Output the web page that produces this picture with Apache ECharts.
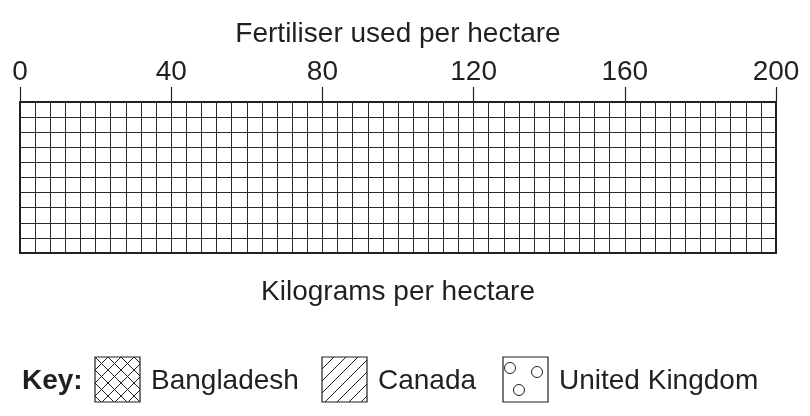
<!DOCTYPE html>
<html>
<head>
<meta charset="utf-8">
<script src="https://cdn.jsdelivr.net/npm/echarts@6/dist/echarts.min.js"></script>
<style>
  html, body { margin: 0; padding: 0; background: #fff; }
  #chart { width: 810px; height: 416px; }
</style>
</head>
<body>
<div id="chart"></div>
<script>
// axis values
var xMin = 0;
var xMax = 200;
var xMajorTicks = [0, 40, 80, 120, 160, 200];
var xMinorStep = 4;
var yRows = 10;
// key
var keyNames = ['Bangladesh', 'Canada', 'United Kingdom'];
var keyHatch = ['cross', 'diagonal', 'circles'];

var FONT = '"Liberation Sans", Arial, sans-serif';
var INK = '#231f20';

// small canvas tiles used as fills for the key boxes
function makeTile(kind){
	var size = kind === 'cross' ? 13 : 12;
	var c = document.createElement('canvas');
	c.width = size; c.height = size;
	var ctx = c.getContext('2d');
	ctx.strokeStyle = INK;
	ctx.lineWidth = 1;
	ctx.beginPath();
	if(kind === 'cross' || kind === 'diagonal'){
		ctx.moveTo(-1, size + 1); ctx.lineTo(size + 1, -1);
		ctx.moveTo(-1, 1); ctx.lineTo(1, -1);
		ctx.moveTo(size - 1, size + 1); ctx.lineTo(size + 1, size - 1);
	}
	if(kind === 'cross'){
		ctx.moveTo(-1, -1); ctx.lineTo(size + 1, size + 1);
		ctx.moveTo(size - 1, -1); ctx.lineTo(size + 1, 1);
		ctx.moveTo(-1, size - 1); ctx.lineTo(1, size + 1);
	}
	ctx.stroke();
	return c;
}

function buildKey(){
	var els = [];
	var rowY = 357, box = 45;
	var boxX = [95, 322, 503];
	var textTop = rowY + box / 2 - 12;
	els.push({
		type: 'text', left: 22, top: textTop,
		style: { text: 'Key:', font: 'bold 28px ' + FONT, fill: INK }
	});
	for(var i = 0; i < keyNames.length; i++){
		var fill = '#fff';
		if(keyHatch[i] !== 'circles'){
			fill = { image: makeTile(keyHatch[i]), repeat: 'repeat' };
		}
		els.push({
			type: 'rect', x: boxX[i], y: rowY,
			shape: { x: 0, y: 0, width: box, height: box },
			style: { fill: fill, stroke: INK, lineWidth: 1.2 }
		});
		if(keyHatch[i] === 'circles'){
			var dots = [[7, 11], [34, 15], [16, 33]];
			for(var j = 0; j < dots.length; j++){
				els.push({
					type: 'circle',
					shape: { cx: boxX[i] + dots[j][0], cy: rowY + dots[j][1], r: 5.5 },
					style: { fill: '#fff', stroke: INK, lineWidth: 1 }
				});
			}
		}
		els.push({
			type: 'text', left: boxX[i] + box + 11, top: textTop,
			style: { text: keyNames[i], font: '28px ' + FONT, fill: INK }
		});
	}
	return els;
}

var chart = echarts.init(document.getElementById('chart'));
var option = {
	animation: false,
	backgroundColor: '#fff',
	textStyle: { fontFamily: FONT, color: INK },
	grid: {
		left: 20, right: 34, top: 102, height: 151,
		containLabel: false, outerBoundsMode: 'none',
		show: true, borderColor: INK, borderWidth: 2, backgroundColor: 'transparent', z: 5
	},
	xAxis: [
		{
			type: 'value', position: 'top', min: xMin, max: xMax, interval: xMajorTicks[1] - xMajorTicks[0],
			name: 'Fertiliser used per hectare', nameLocation: 'middle', nameGap: 54,
			nameTextStyle: { fontSize: 28, color: INK, fontFamily: FONT },
			axisLine: { show: false, onZero: false },
			axisTick: { show: true, inside: false, length: 15, lineStyle: { color: INK, width: 1.2 } },
			axisLabel: {
				show: true, margin: 16, fontSize: 28, color: INK, fontFamily: FONT,
				showMinLabel: true, showMaxLabel: true,
				formatter: function(v){ return xMajorTicks.indexOf(v) !== -1 ? String(v) : ''; }
			},
			splitLine: { show: false }
		},
		{
			type: 'value', position: 'bottom', min: xMin, max: xMax, interval: xMinorStep,
			name: 'Kilograms per hectare', nameLocation: 'middle', nameGap: 25,
			nameTextStyle: { fontSize: 28, color: INK, fontFamily: FONT },
			axisLine: { show: false, onZero: false },
			axisTick: { show: false },
			axisLabel: { show: false },
			splitLine: { show: true, lineStyle: { color: '#2a2a2a', width: 1 } }
		}
	],
	yAxis: {
		type: 'value', min: 0, max: yRows, interval: 1,
		axisLine: { show: false, onZero: false },
		axisTick: { show: false },
		axisLabel: { show: false },
		splitLine: { show: true, lineStyle: { color: '#2a2a2a', width: 1 } }
	},
	series: [],
	graphic: buildKey()
};
chart.setOption(option);
</script>
</body>
</html>
